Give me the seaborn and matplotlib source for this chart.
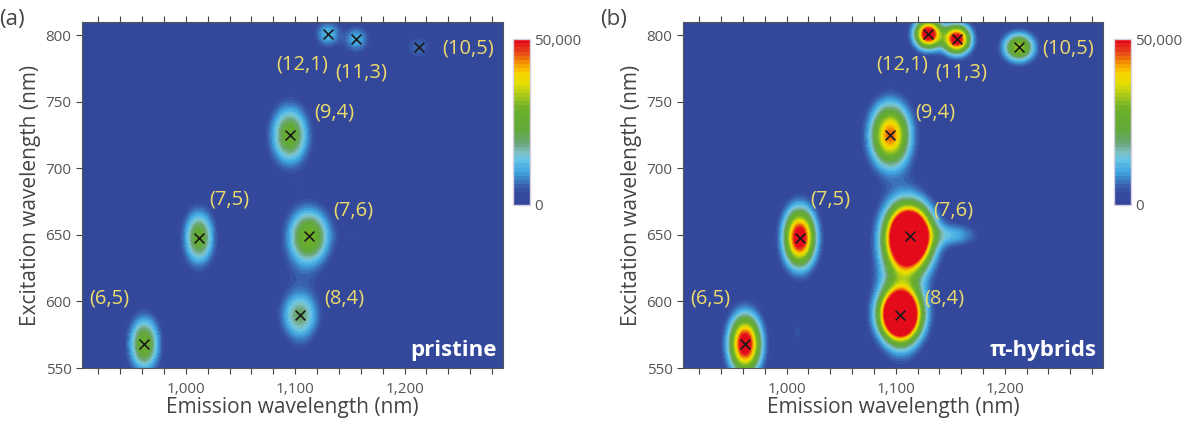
import numpy as np
import pandas as pd
import seaborn as sns
import matplotlib
matplotlib.use('Agg')
import matplotlib.pyplot as plt
from matplotlib.colors import LinearSegmentedColormap
from matplotlib.ticker import MultipleLocator, FuncFormatter

# --- data ---
chirality = ['(6,5)', '(7,5)', '(7,6)', '(8,4)', '(9,4)', '(12,1)', '(11,3)', '(10,5)']
emission_nm = [962, 1012, 1113, 1104, 1095, 1130, 1156, 1213]
excitation_nm = [568, 648, 649, 590, 725, 801, 797, 791]
label_em = [930, 1040, 1153, 1145, 1136, 1106, 1160, 1258]
label_ex = [602, 677, 668, 602, 742, 778, 772, 790]

# peak + sideband features (first 8 are the tubes above)
feat_em = emission_nm + [1106, 1152, 1105, 1010]
feat_ex = excitation_nm + [625, 650, 575, 577]
sig_em = [8, 8, 11, 10, 10, 7, 7, 8, 12, 13, 8, 4]
sig_ex = [12, 12, 12, 10, 13, 6, 6, 6, 28, 5, 10, 8]
amp_pristine = [27000, 25000, 27000, 17000, 26000, 12000, 11000, 6000, 3500, 1500, 2500, 1000]
amp_hybrid = [55000, 55000, 90000, 85000, 45000, 56000, 54000, 32000, 22000, 11000, 6000, 4000]
width_scale = [1.1, 1.18]  # hybrid peaks are broader

panels = ['(a)', '(b)']
names = ['pristine', 'π-hybrids']
amps = [amp_pristine, amp_hybrid]

sns.set_theme(style='ticks')
plt.rcParams['font.family'] = ['Open Sans', 'DejaVu Sans']

cmap = LinearSegmentedColormap.from_list('ple', [
    (0.00, '#33489a'), (0.07, '#34499b'), (0.13, '#3a6cb5'), (0.20, '#3fa4de'),
    (0.27, '#66c4e6'), (0.32, '#7fbfbf'), (0.37, '#6aa57a'), (0.45, '#62a83a'),
    (0.58, '#6cb02a'), (0.66, '#a8c81a'), (0.74, '#e6e000'), (0.80, '#f8d000'),
    (0.86, '#f39000'), (0.92, '#e84a1a'), (1.00, '#e2001a')])

em = np.linspace(905, 1290, 400)
ex = np.linspace(550, 810, 300)
EM, EX = np.meshgrid(em, ex)

fig = plt.figure(figsize=(11.95, 4.25), dpi=100)
ax_pos = [[0.0686, 0.1341, 0.3523, 0.8141], [0.5715, 0.1341, 0.3515, 0.8141]]
cb_pos = [[0.4293, 0.518, 0.0142, 0.39], [0.9322, 0.518, 0.0142, 0.39]]
levels = np.linspace(0, 50000, 41)
txt_col = '#444444'

for i in range(2):
    ax = fig.add_axes(ax_pos[i])
    Z = np.zeros_like(EM)
    k = width_scale[i]
    for e0, x0, se, sx, a in zip(feat_em, feat_ex, sig_em, sig_ex, amps[i]):
        Z += a * np.exp(-0.5 * ((EM - e0) / (se * k)) ** 2 - 0.5 * ((EX - x0) / (sx * k)) ** 2)
    Z = np.clip(Z, 0, 49999)
    cs = ax.contourf(EM, EX, Z, levels=levels, cmap=cmap, vmin=0, vmax=50000)

    df = pd.DataFrame({'em': emission_nm, 'ex': excitation_nm})
    sns.scatterplot(data=df, x='em', y='ex', marker='x', s=50, color='#1a1a1a',
                    linewidth=1.2, ax=ax, zorder=5)
    for lab, lx, ly in zip(chirality, label_em, label_ex):
        ax.text(lx, ly, lab, color='#eedc6a', fontsize=14.5, ha='center', va='center')
    ax.text(1284, 563, names[i], color='white', fontsize=16, fontweight='bold',
            ha='right', va='center')

    ax.set_xlim(905, 1290)
    ax.set_ylim(550, 810)
    ax.xaxis.set_major_locator(MultipleLocator(100))
    ax.xaxis.set_minor_locator(MultipleLocator(20))
    ax.yaxis.set_major_locator(MultipleLocator(50))
    ax.xaxis.set_major_formatter(FuncFormatter(lambda v, p: f'{int(v):,}'))
    ax.tick_params(axis='x', which='both', top=True, direction='out', length=4,
                   width=0.8, color=txt_col, labelsize=11, labelcolor='#555555', pad=6)
    ax.tick_params(axis='y', which='both', direction='out', length=4, width=0.8,
                   color=txt_col, labelsize=11, labelcolor='#555555')
    ax.set_xlabel('Emission wavelength (nm)', fontsize=15, color=txt_col, labelpad=0)
    ax.set_ylabel('Excitation wavelength (nm)', fontsize=15, color=txt_col, labelpad=3)
    for sp in ax.spines.values():
        sp.set_color('#555555')
        sp.set_linewidth(0.8)
    fig.text(ax_pos[i][0] - 0.069, 0.955, panels[i], fontsize=16, color='#444444',
             ha='left', va='center')

    cax = fig.add_axes(cb_pos[i])
    cb = fig.colorbar(cs, cax=cax, ticks=[0, 50000])
    cb.ax.set_yticklabels(['0', '50,000'])
    cb.ax.tick_params(length=0, labelsize=11, labelcolor='#555555', pad=3)
    cb.outline.set_edgecolor('#d8d0e0')
    cb.outline.set_linewidth(1.0)

fig.savefig('out.png', dpi=100)
